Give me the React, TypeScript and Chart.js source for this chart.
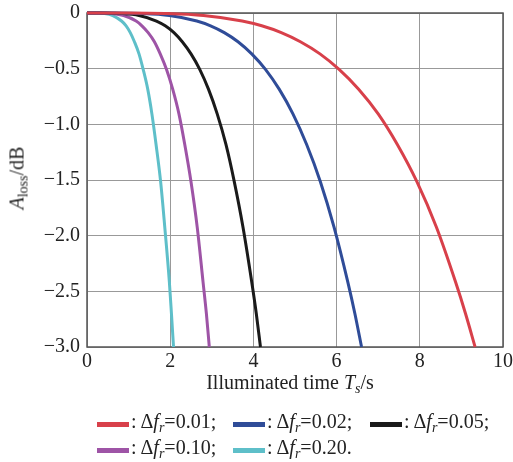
import React, { useEffect, useRef } from "react";
import { Chart, registerables } from "chart.js";

Chart.register(...registerables);

// Loss levels (dB) and the illuminated time (s) at which each curve reaches them
const lossDb = [0, -0.0003, -0.0045, -0.0227, -0.072, -0.115, -0.176, -0.258, -0.367, -0.506, -0.684, -0.906, -1.181, -1.515, -1.925, -2.417, -2.701, -3.0];
const tDf001 = [0, 0.93, 1.87, 2.8, 3.73, 4.2, 4.67, 5.13, 5.6, 6.06, 6.53, 7.0, 7.46, 7.93, 8.4, 8.86, 9.1, 9.33];
const tDf002 = [0, 0.66, 1.32, 1.98, 2.64, 2.97, 3.3, 3.63, 3.96, 4.29, 4.62, 4.95, 5.28, 5.61, 5.94, 6.27, 6.44, 6.6];
const tDf005 = [0, 0.42, 0.83, 1.25, 1.67, 1.88, 2.09, 2.29, 2.5, 2.71, 2.92, 3.13, 3.34, 3.54, 3.75, 3.96, 4.07, 4.17];
const tDf010 = [0, 0.29, 0.59, 0.88, 1.18, 1.32, 1.47, 1.62, 1.76, 1.91, 2.06, 2.21, 2.35, 2.5, 2.65, 2.79, 2.87, 2.94];
const tDf020 = [0, 0.21, 0.42, 0.62, 0.83, 0.94, 1.04, 1.14, 1.25, 1.35, 1.46, 1.56, 1.66, 1.77, 1.87, 1.98, 2.03, 2.08];

const seriesLabels = ["0.01;", "0.02;", "0.05;", "0.10;", "0.20."];
const seriesTimes = [tDf001, tDf002, tDf005, tDf010, tDf020];
const seriesColors = ["#d8404a", "#2f4c98", "#1a1a1a", "#9e54a6", "#5ebfc9"];

const xTicks = [0, 2, 4, 6, 8, 10];
const yTicks = [0, -0.5, -1.0, -1.5, -2.0, -2.5, -3.0];

const FONT = "'Liberation Serif', 'DejaVu Serif', serif";

const framePlugin = {
  id: "frame",
  beforeDatasetsDraw(chart: any) {
    const { ctx, chartArea } = chart;
    ctx.save();
    ctx.strokeStyle = "#555555";
    ctx.lineWidth = 1.5;
    ctx.strokeRect(chartArea.left, chartArea.top, chartArea.right - chartArea.left, chartArea.bottom - chartArea.top);
    ctx.restore();
  },
};

const legendPos = [
  { left: 97, top: 411 },
  { left: 233, top: 411 },
  { left: 370, top: 411 },
  { left: 97, top: 437 },
  { left: 233, top: 437 },
];

export default function App() {
  const ref = useRef<HTMLCanvasElement | null>(null);

  useEffect(() => {
    if (!ref.current) return;
    const chart = new Chart(ref.current, {
      type: "line",
      data: {
        datasets: seriesTimes.map((ts, i) => ({
          label: seriesLabels[i],
          data: ts.map((t, j) => ({ x: t, y: lossDb[j] })),
          borderColor: seriesColors[i],
          backgroundColor: seriesColors[i],
          borderWidth: 3,
          pointRadius: 0,
          cubicInterpolationMode: "monotone" as const,
          clip: 4,
        })),
      },
      options: {
        animation: false,
        responsive: false,
        layout: { padding: { left: 0, top: 13, right: 10, bottom: 0 } },
        plugins: { legend: { display: false }, tooltip: { enabled: false } },
        scales: {
          x: {
            type: "linear",
            min: 0,
            max: 10,
            afterBuildTicks(scale: any) {
              scale.ticks = xTicks.map((v) => ({ value: v }));
            },
            afterFit(scale: any) {
              scale.height = 115;
              scale.paddingLeft = 0;
              scale.paddingRight = 0;
            },
            grid: { color: "#999999", lineWidth: 1, drawTicks: false },
            border: { display: false },
            ticks: {
              padding: 3,
              color: "#222222",
              font: { family: FONT, size: 20 },
              maxRotation: 0,
              callback: (v: any) => String(v),
            },
          },
          y: {
            type: "linear",
            min: -3,
            max: 0,
            afterBuildTicks(scale: any) {
              scale.ticks = yTicks.map((v) => ({ value: v }));
            },
            afterFit(scale: any) {
              scale.width = 87;
              scale.paddingTop = 0;
              scale.paddingBottom = 0;
            },
            grid: { color: "#999999", lineWidth: 1, drawTicks: false },
            border: { display: false },
            ticks: {
              padding: 7,
              color: "#222222",
              font: { family: FONT, size: 20 },
              callback: (v: any) => (Number(v) === 0 ? "0" : "\u2212" + Math.abs(Number(v)).toFixed(1)),
            },
          },
        },
      },
      plugins: [framePlugin],
    });
    return () => chart.destroy();
  }, []);

  return (
    <div style={{ position: "fixed", left: 0, top: 0, width: 513, height: 462, background: "#fff", fontFamily: FONT, color: "#222" }}>
      <canvas ref={ref} width={513} height={462} style={{ display: "block" }} />
      <div
        style={{
          position: "absolute",
          left: 20,
          top: 178,
          transform: "translate(-50%, -50%) rotate(-90deg)",
          whiteSpace: "nowrap",
          fontSize: 20,
          lineHeight: "20px",
        }}
      >
        <i>A</i>
        <sub style={{ fontSize: 14, verticalAlign: "-4px" }}>loss</sub>/dB
      </div>
      <div
        style={{
          position: "absolute",
          left: 290,
          top: 372,
          transform: "translateX(-50%)",
          whiteSpace: "nowrap",
          fontSize: 20,
          lineHeight: "20px",
        }}
      >
        Illuminated time <i>T</i>
        <sub style={{ fontSize: 14, verticalAlign: "-4px", fontStyle: "italic" }}>s</sub>/s
      </div>
      {seriesLabels.map((lab, i) => (
        <div
          key={i}
          style={{
            position: "absolute",
            left: legendPos[i].left,
            top: legendPos[i].top,
            whiteSpace: "nowrap",
            fontSize: 20,
            lineHeight: "20px",
            display: "flex",
            alignItems: "center",
          }}
        >
          <span style={{ display: "inline-block", width: 32, height: 5, background: seriesColors[i], marginRight: 2 }} />
          <span>
            : Δ<i>f</i>
            <sub style={{ fontSize: 14, verticalAlign: "-4px", fontStyle: "italic" }}>r</sub>={lab}
          </span>
        </div>
      ))}
    </div>
  );
}
